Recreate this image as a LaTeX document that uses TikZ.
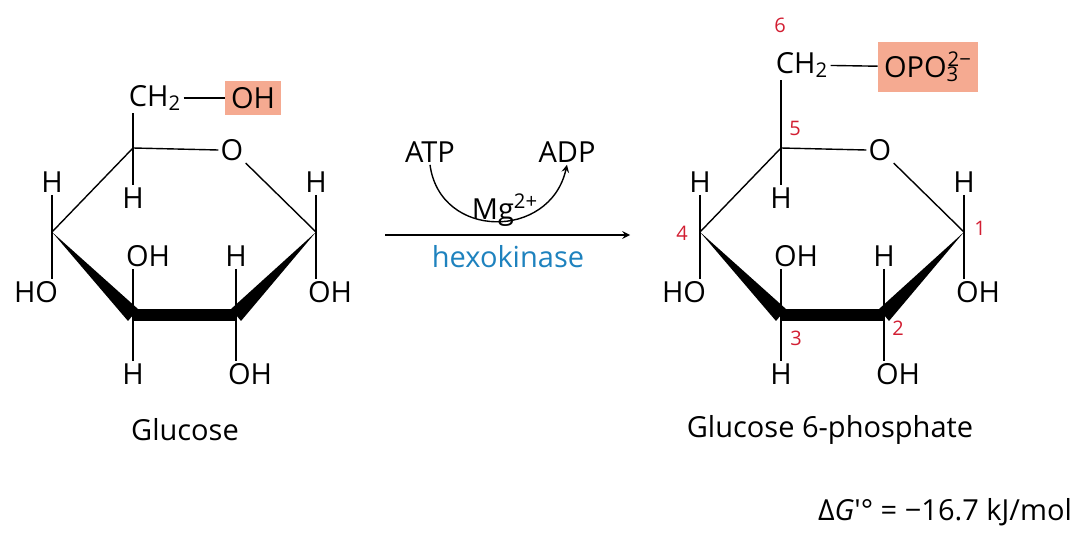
\documentclass[tikz,border=0pt]{standalone}
\usepackage{fontspec}
\setmainfont{Open Sans}
\definecolor{HexoBlue}{RGB}{30,130,190}
\definecolor{AtomRed}{RGB}{210,30,50}
\definecolor{GroupBox}{RGB}{245,170,145}
\begin{document}
\begin{tikzpicture}[x=0.5pt,y=-0.5pt,font=\fontsize{14.5}{16}\selectfont,
  atom/.style={inner sep=1pt},
  num/.style={text=AtomRed,font=\fontsize{10}{11}\selectfont,inner sep=0pt},
  bond/.style={line width=0.7pt},
  hl/.style={fill=GroupBox,inner sep=3pt}]
\useasboundingbox (0,0) rectangle (1078,540);
\foreach \s/\r in {0/g,648/p} {
  \begin{scope}[xshift=\s*0.5pt]
   \node[atom] (\r O) at (232,150) {O};
   \coordinate (\r c1) at (316,232);
   \coordinate (\r c2) at (236,315);
   \coordinate (\r c3) at (133,315);
   \coordinate (\r c4) at (52,232);
   \coordinate (\r c5) at (133,148);
   \node[atom] (\r h1) at (316,182) {H};
   \node[atom] (\r oh1) at (330,292) {OH};
   \node[atom] (\r h4) at (52,182) {H};
   \node[atom] (\r ho4) at (36,292) {HO};
   \node[atom] (\r h5) at (133,198) {H};
   \node[atom] (\r oh3) at (148,256) {OH};
   \node[atom] (\r h3) at (133,374) {H};
   \node[atom] (\r h2) at (236,256) {H};
   \node[atom] (\r oh2) at (250,374) {OH};
   \draw[bond] (\r c5) -- (\r O.west);
   \draw[bond] (\r O.south east) -- (\r c1);
   \draw[bond] (\r c5) -- (\r c4);
   \draw[bond] (\r h1) -- (\r h1|-\r oh1.north);
   \draw[bond] (\r h4) -- (\r h4|-\r ho4.north);
   \draw[bond] (\r c5) -- (\r h5);
   \draw[bond] (\r h3|-\r oh3.south) -- (\r h3);
   \draw[bond] (\r h2) -- (\r h2|-\r oh2.north);
   \fill (\r c4) -- ([shift={(-5,6)}]\r c3) -- ([shift={(5,-6)}]\r c3) -- cycle;
   \draw[line width=6pt] (\r c3) -- (\r c2);
   \fill (\r c1) -- ([shift={(-5,-6)}]\r c2) -- ([shift={(5,6)}]\r c2) -- cycle;
  \end{scope}
}
% glucose top group
\node[atom] (gch) at (155,98) {CH\textsubscript{2}};
\node[hl] (goh) at (253,98) {OH};
\draw[bond] (gc5) -- (gch.south west-|gc5);
\draw[bond] (gch) -- (goh);
% phosphate top group
\node[atom] (pch) at (802,65) {CH\textsubscript{2}};
\node[hl,inner ysep=5pt] (popo) at (928,67) {OPO\textsubscript{3}\kern-0.4em\textsuperscript{2−}};
\draw[bond] (pc5) -- (pch.south west-|pc5);
\draw[bond] (pch) -- (popo);
% carbon numbers
\node[num] (n6) at (780,25) {6};
\node[num] (n5) at (795,128) {5};
\node[num] (n4) at (682,233) {4};
\node[num] (n1) at (980,228) {1};
\node[num] (n3) at (796,338) {3};
\node[num] (n2) at (898,328) {2};
% reaction arrow
\coordinate (rs) at (385,235);
\coordinate (re) at (630,235);
\draw[bond,-stealth] (rs) -- (re);
\node[atom] (atp) at (430,152) {ATP};
\node[atom] (adp) at (567,152) {ADP};
\node[atom] (mg) at (505,210) {Mg\textsuperscript{2+}};
\node[atom,text=HexoBlue] (hexo) at (508,257) {hexokinase};
\draw[bond,-stealth] (atp.south) .. controls (440,240) and (550,240) .. (adp.south);
% labels
\node[atom] (glc) at (185,430) {Glucose};
\node[atom] (g6p) at (830,430) {Glucose 6-phosphate};
\node[atom] (dg) at (945,512) {Δ\textit{G}′° = −16.7 kJ/mol};
\end{tikzpicture}
\end{document}
